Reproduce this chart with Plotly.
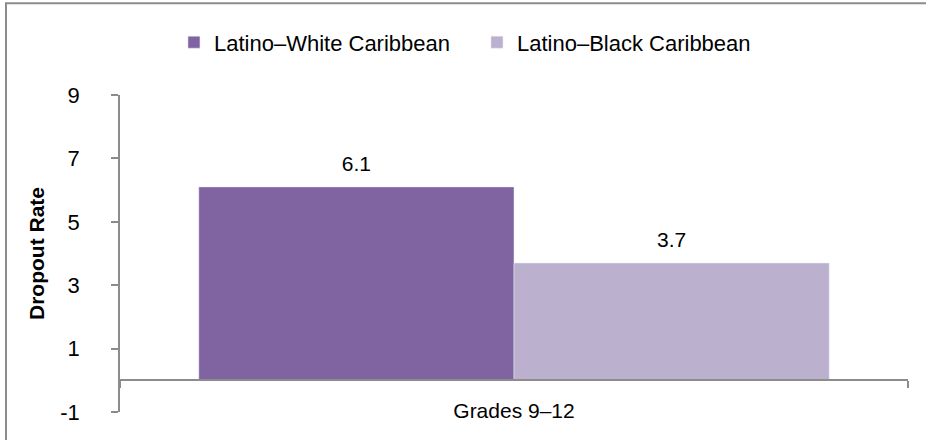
import plotly.graph_objects as go

# data
categories = ["Grades 9–12"]
series_names = ["Latino–White Caribbean", "Latino–Black Caribbean"]
latino_white = [6.1]
latino_black = [3.7]
colors = ["#8064A2", "#BBB0CD"]
y_ticks = [-1, 1, 3, 5, 7, 9]
y_tick_labels = ["-1", "1", "3", "5", "7", "9"]

FONT = "Liberation Sans, Arial, sans-serif"
AXIS_GRAY = "#8c8c8c"

fig = go.Figure()
for i, (name, vals, col) in enumerate(zip(series_names, [latino_white, latino_black], colors)):
    fig.add_trace(go.Bar(x=categories, y=vals, name=name, marker_color=col,
                         offsetgroup=str(i)))
# value labels, grouped the same way as the bars
for i, vals in enumerate([latino_white, latino_black]):
    fig.add_trace(go.Scatter(
        x=categories, y=vals, mode="markers+text", text=[f"{v:.1f}" for v in vals],
        textposition="top center", textfont=dict(size=21, color="#000000"),
        marker=dict(size=16, opacity=0), offsetgroup=str(i),
        showlegend=False, hoverinfo="skip", cliponaxis=False,
    ))

fig.update_layout(
    width=926, height=440,
    margin=dict(l=120, r=18, t=95, b=28),
    plot_bgcolor="white", paper_bgcolor="white",
    font=dict(family=FONT, color="#000000", size=20),
    barmode="group", bargap=0.2, bargroupgap=0,
    scattermode="group", scattergap=0.2,
    legend=dict(orientation="h", x=0.453, xanchor="center", y=1.166, yanchor="middle",
                font=dict(size=22), itemwidth=30, traceorder="normal", entrywidth=258),
    xaxis=dict(anchor="free", position=0.1, showline=True, linecolor=AXIS_GRAY, linewidth=1.5,
               ticks="outside", tickson="boundaries", ticklen=7, tickcolor=AXIS_GRAY,
               tickwidth=1.5, ticklabelstandoff=12, tickfont=dict(size=21)),
    yaxis=dict(range=[-1, 9], tickvals=y_ticks, ticktext=y_tick_labels,
               showgrid=False, zeroline=False,
               showline=True, linecolor=AXIS_GRAY, linewidth=1.5,
               ticks="outside", ticklen=7, tickcolor=AXIS_GRAY, tickwidth=1.5,
               ticklabelstandoff=27, tickfont=dict(size=22),
               title=dict(text="<b>Dropout Rate</b>", font=dict(size=21), standoff=10)),
)

# outer frame of the chart (right and bottom edges fall outside the picture)
fig.add_shape(type="rect", xref="paper", yref="paper",
              x0=(6 - 120) / 788, x1=1.05, y0=-0.2, y1=(411.7 - 3) / 317,
              line=dict(color=AXIS_GRAY, width=2), layer="below")

fig.write_html("out.html", config={"displayModeBar": False},
               post_script="document.body.style.margin='0';")
